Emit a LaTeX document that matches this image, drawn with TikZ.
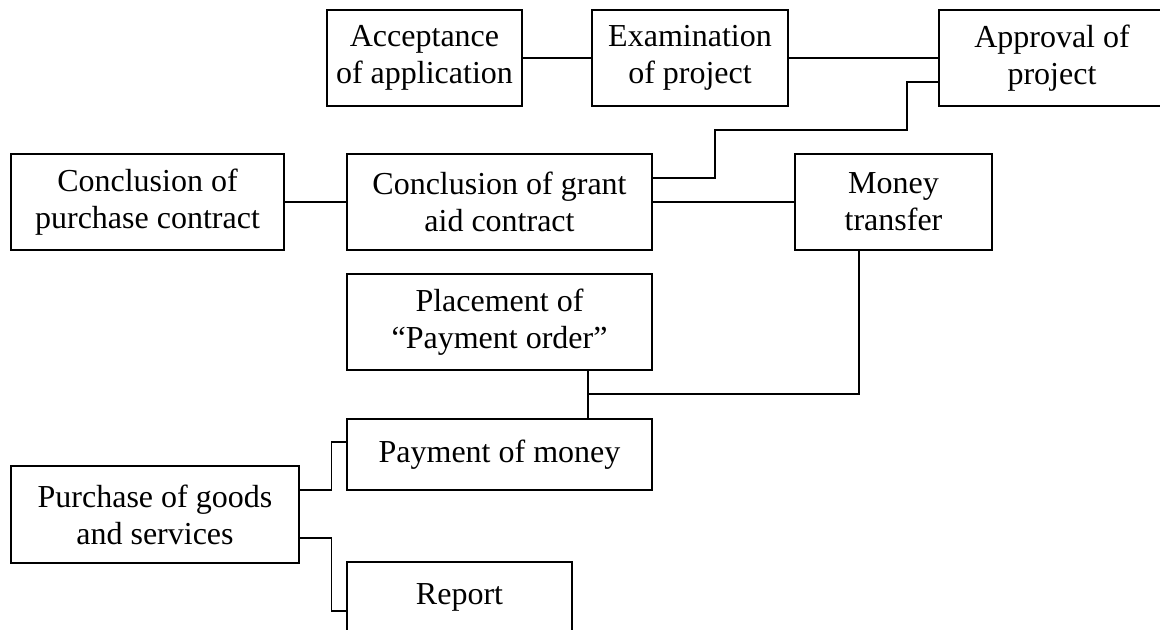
\documentclass[tikz,border=0pt]{standalone}
\usepackage{fontspec}
\setmainfont{Liberation Serif}
\usetikzlibrary{calc}

\tikzset{
    stage/.style 2 args={draw, line width=1.1pt, align=center, inner sep=0pt,
        minimum width=#1*0.75pt, minimum height=#2*0.75pt,
        font=\fontsize{24}{27.6}\selectfont},
    link/.style={line width=1.1pt}
}

\begin{document}
\begin{tikzpicture}[x=0.75pt, y=-0.75pt]
    % Page frame
    \useasboundingbox (0,0) rectangle (1160,629);

    % Top row
    \node[stage={195}{96}] (accept) at (424.5,58) {Acceptance\\of application};
    \node[stage={196}{96}] (exam) at (690,58) {Examination\\of project};
    \node[stage={226}{96}] (approve) at (1052,58) {Approval of\\project};

    % Contracts and transfer
    \node[stage={273}{96}] (purcontract) at (147.5,202) {Conclusion of\\purchase contract};
    \node[stage={305}{96}] (grant) at (499.5,202) {Conclusion of grant\\aid contract};
    \node[stage={197}{96}] (transfer) at (893.5,202) {Money\\transfer};

    % Payment
    \node[stage={305}{96}] (order) at (499.5,322) {Placement of\\``Payment order''};
    \node[stage={305}{71}] (pay) at (499.5,454.5) {Payment of money};

    % Purchase and report
    \node[stage={288}{97}] (purchase) at (155,514.5) {Purchase of goods\\and services};
    \node[stage={225}{71}] (report) at (459.5,597.5) {Report};

    % Connect the top row
    \draw[link] (accept.east) -- (exam.west);
    \draw[link] (exam.east) -- (approve.west);

    % Approval down to the grant contract
    \draw[link] ([yshift=-18pt]approve.west) -| (907,130) -| (715,178)
        -- ([yshift=18pt]grant.east);

    % Contracts row
    \draw[link] (purcontract.east) -- (grant.west);
    \draw[link] (grant.east) -- (transfer.west);

    % Transfer and order join above the payment
    \coordinate (join) at (588,394);
    \draw[link] (order.south -| join) -- (pay.north -| join);
    \draw[link] (join) -| ([xshift=-25.9pt]transfer.south);

    % Purchase branches
    \draw[link] ([yshift=18.4pt]purchase.east) -- ++(32,0)
        |- ([yshift=9.4pt]pay.west);
    \draw[link] ([yshift=-17.6pt]purchase.east) -- ++(32,0)
        |- ([yshift=-10.1pt]report.west);
\end{tikzpicture}
\end{document}
